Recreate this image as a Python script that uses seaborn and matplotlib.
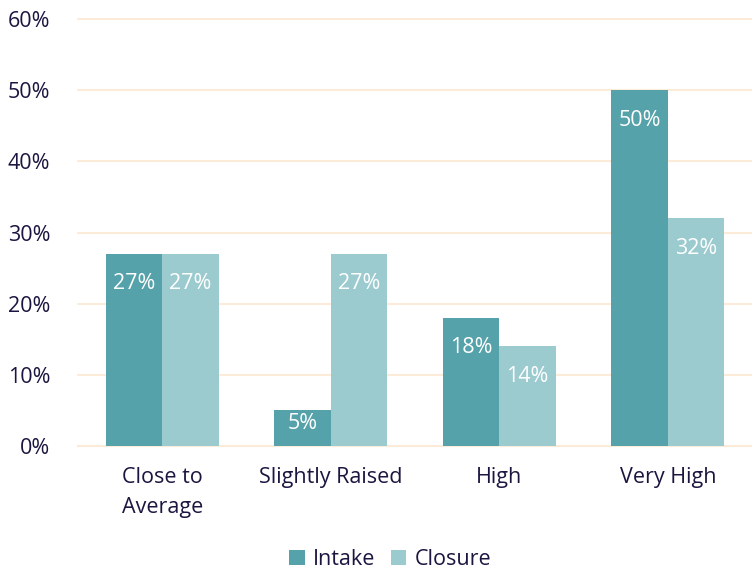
import pandas as pd
import numpy as np
import matplotlib.pyplot as plt
import seaborn as sns

categories = ['Close to\nAverage', 'Slightly Raised', 'High', 'Very High']
intake = [27, 5, 18, 50]
closure = [27, 27, 14, 32]
series = ['Intake', 'Closure']

df = pd.DataFrame({
    'category': categories * 2,
    'value': intake + closure,
    'series': ['Intake'] * 4 + ['Closure'] * 4,
})

sns.set_style('white')
plt.rcParams['font.family'] = ['Open Sans', 'DejaVu Sans']
text_col = '#1B1640'
grid_col = '#FCEBD8'
fs = 15.5

fig = plt.figure(figsize=(7.52, 5.70), dpi=100)
ax = fig.add_axes([0.104, 0.2175, 0.896, 0.7492])

sns.barplot(data=df, x='category', y='value', hue='series', hue_order=series,
            palette=['#55A2AA', '#9BCACF'], width=0.67, saturation=1,
            linewidth=0, ax=ax, zorder=3)

# value labels inside the top of each bar
for cont in ax.containers:
    for rect, v in zip(cont, cont.datavalues):
        off = -13 if v < 10 else -30
        ax.annotate(f'{v:.0f}%', (rect.get_x() + rect.get_width() / 2, v),
                    xytext=(0, off * 0.72), textcoords='offset points',
                    ha='center', va='center', color='white', fontsize=fs, zorder=4)

ax.set_ylim(0, 60)
ax.set_xlim(-0.5, 3.5)
ax.set_yticks(range(0, 61, 10))
ax.set_yticklabels([f'{t}%' for t in range(0, 61, 10)], fontsize=fs, color=text_col)
ax.tick_params(axis='y', length=0, pad=20)
ax.tick_params(axis='x', length=0, labelsize=fs, labelcolor=text_col, pad=15)
for lab in ax.get_xticklabels():
    lab.set_linespacing(1.55)
ax.set_xlabel('')
ax.set_ylabel('')
ax.yaxis.grid(True, color=grid_col, linewidth=1.5, zorder=0)
for gl in ax.get_ygridlines():
    gl.set_clip_on(False)
for s in ['top', 'right', 'left']:
    ax.spines[s].set_visible(False)
ax.spines['bottom'].set_color(grid_col)
ax.spines['bottom'].set_linewidth(1.5)
# category boundary ticks
ax.set_xticks([-0.5, 0.5, 1.5, 2.5, 3.5], minor=True)
ax.tick_params(axis='x', which='minor', length=8, color=grid_col, width=1.5)

leg = ax.legend(loc='center', bbox_to_anchor=(0.463, -0.265), ncol=2,
                frameon=False, fontsize=fs, handlelength=0.7, handleheight=0.7,
                handletextpad=0.4, columnspacing=0.7, labelcolor=text_col)

fig.savefig('out.png', dpi=100)
